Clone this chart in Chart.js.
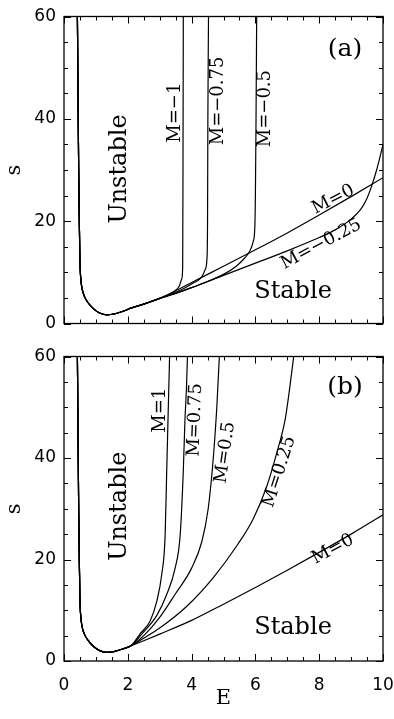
<!DOCTYPE html>
<html>
<head>
<meta charset="utf-8">
<script src="https://cdn.jsdelivr.net/npm/chart.js@4.4.0/dist/chart.umd.min.js"></script>
<style>
  body { margin: 0; background: #fff; }
  #wrap { position: relative; width: 394px; height: 719px; }
  canvas { position: absolute; left: 0; }
</style>
</head>
<body>
<div id="wrap">
  <canvas id="panelA" width="394" height="340" style="top:0px"></canvas>
  <canvas id="panelB" width="394" height="379" style="top:340px"></canvas>
</div>
<script>
// axis ranges and tick steps
const xMin = 0, xMax = 10, xMinor = 0.5, xMajor = 2;
const yMin = 0, yMax = 60, yMinor = 5, yMajor = 20;

// left branch shared by all curves (E, s)
const baseE = [0.42, 0.44, 0.46, 0.48, 0.50, 0.52, 0.56, 0.64, 0.75, 0.92, 1.10, 1.34, 1.60, 1.85, 2.10];
const baseS = [60, 45, 30, 20, 12, 9.2, 7.0, 5.3, 4.1, 2.9, 2.1, 1.7, 1.9, 2.4, 3.0];

// panel (a): M <= 0
const aM0E    = [2.5, 3.0, 3.5, 4, 5, 6, 7, 8, 9, 10];
const aM0S    = [3.8, 4.9, 6.4, 8.0, 11.2, 14.4, 17.7, 21.2, 24.8, 28.5];
const aMm025E = [2.5, 3.0, 3.5, 4, 5, 6, 7, 8, 8.5, 9, 9.3, 9.5, 9.65, 9.8, 9.9, 10];
const aMm025S = [3.8, 4.9, 5.9, 7.0, 9.4, 11.8, 14.2, 16.8, 18.3, 20.4, 22.3, 24.5, 27.0, 30.0, 32.4, 35.0];
const aMm05E  = [2.5, 3.0, 3.5, 4, 5.0, 5.4, 5.65, 5.83, 5.93, 5.98, 6.0, 6.02, 6.04];
const aMm05S  = [3.8, 4.9, 5.9, 7.0, 9.6, 11.2, 12.7, 14.2, 16.0, 18.5, 25, 40, 60];
const aMm075E = [2.5, 3.0, 3.5, 3.8, 4.05, 4.32, 4.43, 4.48, 4.50, 4.51, 4.53];
const aMm075S = [3.8, 4.9, 6.1, 7.0, 7.9, 9.1, 10.6, 12.5, 20, 40, 60];
const aMm1E   = [2.5, 3.0, 3.32, 3.5, 3.62, 3.69, 3.72, 3.73, 3.74];
const aMm1S   = [3.8, 4.9, 5.8, 6.5, 7.4, 8.7, 11, 30, 60];

// panel (b): M >= 0
const bM0E   = [2.5, 3, 4, 5, 6, 7, 8, 9, 10];
const bM0S   = [4.0, 5.3, 8.0, 11.2, 14.5, 17.9, 21.4, 25.0, 28.8];
const bM025E = [2.5, 3.0, 3.85, 4.7, 5.45, 5.93, 6.35, 6.67, 6.93, 7.08, 7.2];
const bM025S = [4.5, 6.5, 10.8, 16.6, 23.0, 28.0, 34.3, 41, 47.5, 54, 60];
const bM05E  = [2.5, 3.0, 3.5, 4.0, 4.32, 4.52, 4.68, 4.79, 4.87];
const bM05S  = [5.0, 8.6, 13.3, 18.3, 23.5, 30, 40, 50, 60];
const bM075E = [2.45, 2.91, 3.22, 3.48, 3.64, 3.74, 3.79, 3.84, 3.87];
const bM075S = [5.4, 9.0, 13.1, 18.2, 24.7, 37.5, 47.2, 54, 60];
const bM1E   = [2.38, 2.70, 2.91, 3.06, 3.17, 3.22, 3.27, 3.31];
const bM1S   = [5.3, 7.9, 11.8, 16.9, 24.7, 37.5, 50, 60];

// text placed in data coordinates
const notesA = [
  {text: '(a)', x: 8.81, y: 53.5, rot: 0, size: 25},
  {text: 'Unstable', x: 1.74, y: 30.2, rot: -90, size: 24},
  {text: 'Stable', x: 7.18, y: 6.2, rot: 0, size: 24},
  {text: 'M=\u22121', x: 3.50, y: 41.2, rot: -90, size: 18},
  {text: 'M=\u22120.75', x: 4.83, y: 43.5, rot: -90, size: 18},
  {text: 'M=\u22120.5', x: 6.31, y: 42, rot: -90, size: 18},
  {text: 'M=0', x: 8.44, y: 24.2, rot: -27, size: 18},
  {text: 'M=\u22120.25', x: 8.06, y: 15.5, rot: -28, size: 18}
];
const notesB = [
  {text: '(b)', x: 8.81, y: 53.9, rot: 0, size: 25},
  {text: 'Unstable', x: 1.76, y: 30.5, rot: -90, size: 24},
  {text: 'Stable', x: 7.18, y: 6.6, rot: 0, size: 24},
  {text: 'M=1', x: 3.01, y: 49.4, rot: -90, size: 18},
  {text: 'M=0.75', x: 4.11, y: 47.5, rot: -88, size: 18},
  {text: 'M=0.5', x: 5.05, y: 41.1, rot: -82, size: 18},
  {text: 'M=0.25', x: 6.75, y: 37.3, rot: -72, size: 18},
  {text: 'M=0', x: 8.43, y: 22.0, rot: -28, size: 18}
];

function curve(tailE, tailS) {
  const pts = baseE.map((e, i) => ({x: e, y: baseS[i]}));
  return pts.concat(tailE.map((e, i) => ({x: e, y: tailS[i]})));
}

function line(data) {
  return {
    data: data,
    showLine: true,
    borderColor: '#000',
    borderWidth: 1.2,
    pointRadius: 0,
    cubicInterpolationMode: 'monotone',
    fill: false
  };
}

// box with inward ticks on all four sides, then the text labels
const frameTicks = {
  id: 'frameTicks',
  afterDatasetsDraw(chart, args, opts) {
    const {ctx, chartArea: a, scales: {x, y}} = chart;
    ctx.save();
    ctx.strokeStyle = '#000';
    ctx.lineWidth = 1.3;
    ctx.strokeRect(a.left, a.top, a.right - a.left, a.bottom - a.top);
    ctx.lineWidth = 1;
    ctx.beginPath();
    for (let v = xMin; v <= xMax + 1e-6; v += xMinor) {
      const px = Math.round(x.getPixelForValue(v)) + 0.5;
      const len = Math.abs(v / xMajor - Math.round(v / xMajor)) < 1e-6 ? 7 : 4;
      ctx.moveTo(px, a.bottom); ctx.lineTo(px, a.bottom - len);
      ctx.moveTo(px, a.top); ctx.lineTo(px, a.top + len);
    }
    for (let v = yMin; v <= yMax + 1e-6; v += yMinor) {
      const py = Math.round(y.getPixelForValue(v)) + 0.5;
      const len = v % yMajor === 0 ? 7 : 4;
      ctx.moveTo(a.left, py); ctx.lineTo(a.left + len, py);
      ctx.moveTo(a.right, py); ctx.lineTo(a.right - len, py);
    }
    ctx.stroke();

    ctx.fillStyle = '#000';
    ctx.textAlign = 'center';
    ctx.textBaseline = 'middle';
    opts.notes.forEach(n => {
      ctx.save();
      ctx.translate(x.getPixelForValue(n.x), y.getPixelForValue(n.y));
      ctx.rotate(n.rot * Math.PI / 180);
      ctx.font = n.size + 'px "DejaVu Serif"';
      ctx.fillText(n.text, 0, 0);
      ctx.restore();
    });
    ctx.restore();
  }
};

function makePanel(id, datasets, notes, showX, padding) {
  return new Chart(document.getElementById(id), {
    type: 'scatter',
    data: {datasets: datasets},
    plugins: [frameTicks],
    options: {
      responsive: false,
      animation: false,
      events: [],
      layout: {padding: padding},
      plugins: {
        legend: {display: false},
        tooltip: {enabled: false},
        frameTicks: {notes: notes}
      },
      scales: {
        x: {
          type: 'linear',
          min: xMin,
          max: xMax,
          display: showX,
          border: {display: false},
          grid: {display: false, drawTicks: true, tickLength: 16},
          ticks: {
            stepSize: xMajor,
            padding: 0,
            color: '#000',
            font: {family: 'DejaVu Sans', size: 17, lineHeight: 1}
          },
          title: {
            display: true,
            text: 'E',
            color: '#000',
            padding: {top: 0, bottom: 8},
            font: {family: 'DejaVu Serif', size: 21}
          },
          afterFit(scale) { if (showX) scale.height = 58; }
        },
        y: {
          min: yMin,
          max: yMax,
          border: {display: false},
          grid: {display: false, drawTicks: false},
          ticks: {
            stepSize: yMajor,
            padding: 8,
            color: '#000',
            font: {family: 'DejaVu Sans', size: 17, lineHeight: 1}
          },
          title: {
            display: true,
            text: 's',
            color: '#000',
            padding: {top: 2, bottom: 2},
            font: {family: 'DejaVu Serif', size: 21}
          },
          afterFit(scale) { scale.width = 64; }
        }
      }
    }
  });
}

makePanel('panelA', [
  line(curve(aM0E, aM0S)),
  line(curve(aMm025E, aMm025S)),
  line(curve(aMm05E, aMm05S)),
  line(curve(aMm075E, aMm075S)),
  line(curve(aMm1E, aMm1S))
], notesA, false, {top: 8, right: 11, bottom: 15, left: 0});

makePanel('panelB', [
  line(curve(bM0E, bM0S)),
  line(curve(bM025E, bM025S)),
  line(curve(bM05E, bM05S)),
  line(curve(bM075E, bM075S)),
  line(curve(bM1E, bM1S))
], notesB, true, {top: 10, right: 11, bottom: 0, left: 0});
</script>
</body>
</html>
